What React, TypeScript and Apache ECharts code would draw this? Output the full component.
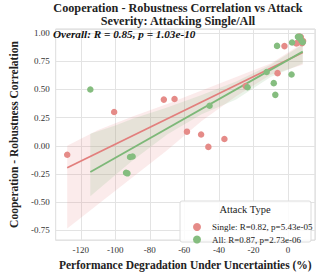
import React, { useEffect, useRef } from "react";
import * as echarts from "echarts";

// Scatter data
const singlePoints: number[][] = [
  [-127.9, -0.08], [-100.7, 0.3], [-71.9, 0.41], [-65.7, 0.415], [-58.5, 0.125],
  [-50.3, 0.1], [-46.1, -0.01], [-36.8, 0.06], [-24.5, 0.53], [-6.0, 0.645],
  [-2.0, 0.885], [4.9, 0.908], [5.5, 0.915], [6.5, 0.97], [7.5, 0.965],
  [8.2, 0.91], [8.8, 0.93],
];
const allPoints: number[][] = [
  [-114.5, 0.5], [-93.8, -0.24], [-93.0, -0.245], [-91.5, -0.1], [-90.0, -0.095],
  [-45.4, 0.355], [-23.4, 0.52], [-12.3, 0.655], [-8.2, 0.556], [-7.3, 0.452],
  [-6.3, 0.887], [2.1, 0.633], [2.4, 0.917], [5.8, 0.968], [6.4, 0.96],
  [7.0, 0.967], [7.8, 0.935], [8.6, 0.92],
];
// Regression lines (end points)
const singleLine: number[][] = [[-127.9, -0.195], [8.6, 0.828]];
const allLine: number[][] = [[-114.5, -0.233], [8.6, 0.836]];
// Confidence bands: [x, lower, upper]
const singleBand: number[][] = [
  [-127.9, -0.735, 0.0], [-110, -0.52, 0.14], [-90, -0.28, 0.26], [-70, -0.04, 0.37],
  [-50, 0.22, 0.49], [-30, 0.44, 0.61], [-10, 0.63, 0.73], [8.6, 0.72, 0.91],
];
const allBand: number[][] = [
  [-114.5, -0.448, 0.106], [-100, -0.26, 0.18], [-90, -0.13, 0.24], [-70, 0.1, 0.34],
  [-50, 0.28, 0.45], [-30, 0.41, 0.57], [-10, 0.61, 0.72], [8.6, 0.73, 0.9],
];

const singleName = "Single: R=0.82, p=5.43e-05";
const allName = "All: R=0.87, p=2.73e-06";
const titleText = "Cooperation - Robustness Correlation vs Attack\nSeverity: Attacking Single/All";
const overallText = "Overall: R = 0.85, p = 1.03e-10";
const xName = "Performance Degradation Under Uncertainties (%)";
const yName = "Cooperation - Robustness Correlation";

const RED = "#e58b88";
const GREEN = "#85bd7f";
const RED_LINE = "#e27f7d";
const GREEN_LINE = "#7db878";
const SERIF = "'Liberation Serif', 'Times New Roman', serif";

function bandSeries(band: number[][], fill: string) {
  return {
    type: "custom",
    coordinateSystem: "cartesian2d",
    silent: true,
    z: 1,
    data: band,
    encode: { x: 0, y: [1, 2] },
    renderItem: (params: any, api: any) => {
      if (params.dataIndex !== 0) return null;
      const pts: number[][] = [];
      band.forEach((b) => pts.push(api.coord([b[0], b[2]])));
      for (let i = band.length - 1; i >= 0; i--) pts.push(api.coord([band[i][0], band[i][1]]));
      return { type: "polygon", shape: { points: pts }, style: { fill } };
    },
  };
}

export default function App() {
  const ref = useRef<HTMLDivElement>(null);
  useEffect(() => {
    if (!ref.current) return;
    document.body.style.margin = "0";
    const chart = echarts.init(ref.current, null, { renderer: "svg" });
    chart.setOption({
      animation: false,
      grid: { left: 40, right: 4, top: 29, bottom: 29, show: true, borderColor: "#d6d6d6", borderWidth: 1, backgroundColor: "transparent" },
      xAxis: {
        type: "value",
        min: -134.6,
        max: 15.7,
        splitNumber: 8,
        minInterval: 20,
        maxInterval: 20,
        axisLine: { show: false },
        axisTick: { show: false },
        splitLine: { lineStyle: { color: "#e3e3e3", width: 1 } },
        axisLabel: { showMinLabel: false, showMaxLabel: false, fontFamily: SERIF, fontSize: 9, color: "#333", margin: 5 },
        name: xName,
        nameLocation: "middle",
        nameGap: 14,
        nameTextStyle: { fontFamily: SERIF, fontSize: 11.5, fontWeight: "bold", color: "#222" },
      },
      yAxis: {
        type: "value",
        min: -0.838,
        max: 1.037,
        splitNumber: 8,
        minInterval: 0.25,
        maxInterval: 0.25,
        axisLine: { show: false },
        axisTick: { show: false },
        splitLine: { lineStyle: { color: "#e3e3e3", width: 1 } },
        axisLabel: {
          showMinLabel: false, showMaxLabel: false, fontFamily: SERIF, fontSize: 9, color: "#333", margin: 6,
          formatter: (v: number) => v.toFixed(2),
        },
        name: yName,
        nameLocation: "middle",
        nameGap: 25,
        nameTextStyle: { fontFamily: SERIF, fontSize: 11.5, fontWeight: "bold", color: "#222" },
      },
      legend: {
        orient: "vertical",
        left: 188,
        top: 216,
        z: 20,
        itemWidth: 8,
        itemHeight: 8,
        itemGap: 0.5,
        icon: "circle",
        data: [singleName, allName],
        textStyle: { fontFamily: SERIF, fontSize: 9, color: "#222", lineHeight: 12, padding: [0, 0, 0, 6] },
      },
      graphic: [
        { type: "text", x: 178, y: 2, style: { text: titleText, textAlign: "center", textVerticalAlign: "top", lineHeight: 12.5, fontFamily: SERIF, fontSize: 12.2, fontWeight: "bold", fill: "#222" } },
        { type: "text", x: 53, y: 34, z: 10, style: { text: overallText, textAlign: "left", textVerticalAlign: "middle", fontFamily: SERIF, fontSize: 11.2, fontWeight: "bold", fontStyle: "italic", fill: "#111" } },
        { type: "rect", z: 3, shape: { x: 180, y: 201, width: 131, height: 41, r: 2 }, style: { fill: "rgba(255,255,255,0.85)", stroke: "#dcdcdc", lineWidth: 1 } },
        { type: "text", x: 245, y: 209, z: 10, style: { text: "Attack Type", textAlign: "center", textVerticalAlign: "middle", fontFamily: SERIF, fontSize: 10.5, fill: "#222" } },
      ],
      series: [
        bandSeries(singleBand, "rgba(232,130,128,0.16)"),
        bandSeries(allBand, "rgba(130,185,125,0.17)"),
        { type: "line", data: singleLine, symbol: "none", silent: true, z: 2, lineStyle: { color: RED_LINE, width: 1.8 } },
        { type: "line", data: allLine, symbol: "none", silent: true, z: 2, lineStyle: { color: GREEN_LINE, width: 1.8 } },
        { name: singleName, type: "scatter", data: singlePoints, symbolSize: 6.5, z: 3, itemStyle: { color: RED, opacity: 1 } },
        { name: allName, type: "scatter", data: allPoints, symbolSize: 6.5, z: 3, itemStyle: { color: GREEN, opacity: 1 } },
      ],
    });
    return () => chart.dispose();
  }, []);
  return <div ref={ref} style={{ width: 319, height: 276 }} />;
}
